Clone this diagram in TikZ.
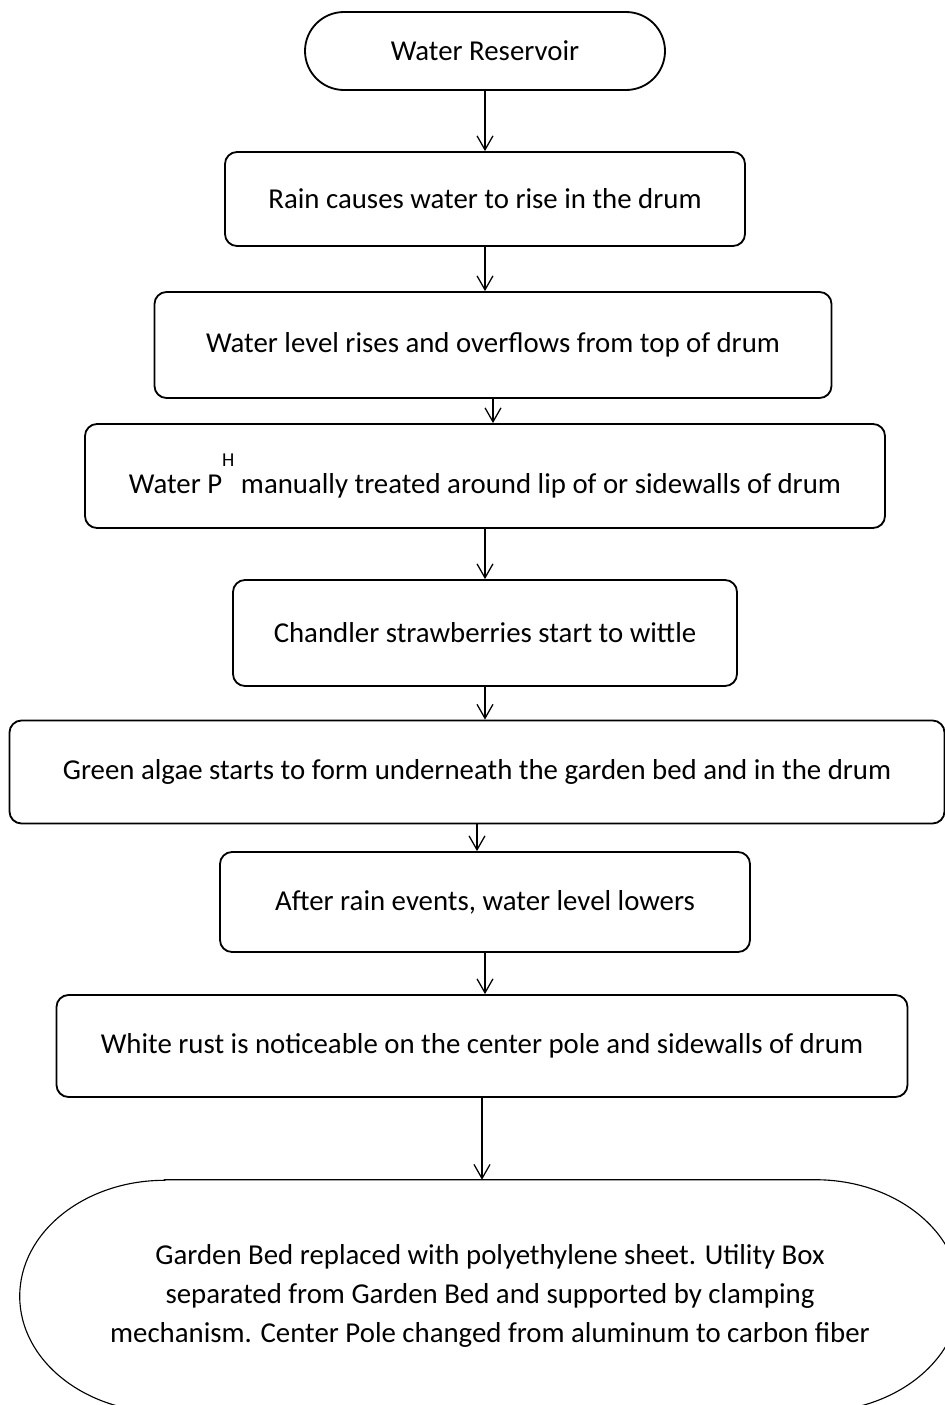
\documentclass[tikz,border=0pt]{standalone}
\usepackage{fontspec}
\setmainfont{Carlito}
\usepackage{tikz}
\usetikzlibrary{positioning,arrows.meta,calc,shapes.misc}

\begin{document}
\begin{tikzpicture}[font=\fontsize{20.5}{27.7}\selectfont,
  stepbox/.style={draw,line width=1.3pt,rounded corners=0.3cm,align=center,inner sep=0pt},
  flow/.style={line width=0.9pt,-{Straight Barb[length=3.5mm,width=4mm]}}]
\useasboundingbox (0,0) rectangle (23.625,-35.125);
% Start terminal
\node[draw,line width=1.3pt,rounded rectangle,minimum width=9cm,minimum height=1.95cm,inner sep=0pt]
  (res) at (12.125,-1.275) {Water Reservoir};
% Process steps
\node[stepbox,minimum width=13cm,minimum height=2.35cm] (rain) at (12.125,-4.975)
  {Rain causes water to rise in the drum};
\node[stepbox,minimum width=16.925cm,minimum height=2.65cm] (level) at (12.325,-8.625)
  {Water level rises and overflows from top of drum};
\node[stepbox,minimum width=20cm,minimum height=2.6cm] (ph) at (12.125,-11.9)
  {Water P\raisebox{0.95em}{\fontsize{14}{14}\selectfont H}\ manually treated around lip of or sidewalls of drum};
\node[stepbox,minimum width=12.6cm,minimum height=2.65cm] (wilt) at (12.125,-15.825)
  {Chandler strawberries start to wittle};
\node[stepbox,minimum width=23.375cm,minimum height=2.575cm] (algae) at (11.925,-19.3)
  {Green algae starts to form underneath the garden bed and in the drum};
\node[stepbox,minimum width=13.25cm,minimum height=2.5cm] (lower) at (12.125,-22.55)
  {After rain events, water level lowers};
\node[stepbox,minimum width=21.275cm,minimum height=2.55cm] (rust) at (12.05,-26.15)
  {White rust is noticeable on the center pole and sidewalls of drum};
% End terminal with flat top and elliptic ends
\node[minimum width=23.5cm,minimum height=5.8cm,align=center,inner sep=0pt] (bed) at (12.25,-32.4)
  {Garden Bed replaced with polyethylene sheet. Utility Box\\
   separated from Garden Bed and supported by clamping\\
   mechanism. Center Pole changed from aluminum to carbon fiber};
\draw[line width=0.8pt] ($(bed.north west)+(3.625,0)$) -- ($(bed.north east)+(-3.625,0)$)
  arc[start angle=90,end angle=-90,x radius=3.625cm,y radius=2.9cm]
  -- ($(bed.south west)+(3.625,0)$)
  arc[start angle=270,end angle=90,x radius=3.625cm,y radius=2.9cm] -- cycle;
% Connectors
\draw[flow] (res.south) -- (res.south |- rain.north);
\draw[flow] (rain.south) -- (rain.south |- level.north);
\draw[flow] (level.south) -- (level.south |- ph.north);
\draw[flow] (ph.south) -- (ph.south |- wilt.north);
\draw[flow] (wilt.south) -- (wilt.south |- algae.north);
\draw[flow] (algae.south) -- (algae.south |- lower.north);
\draw[flow] (lower.south) -- (lower.south |- rust.north);
\draw[flow] (rust.south) -- (rust.south |- bed.north);
\end{tikzpicture}
\end{document}
